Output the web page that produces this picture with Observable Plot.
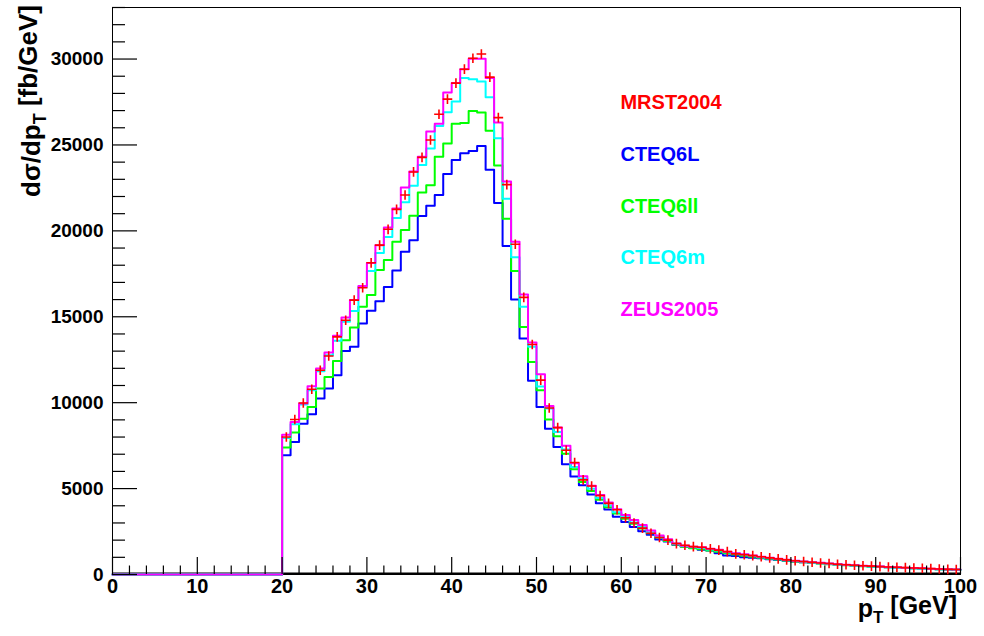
<!DOCTYPE html>
<html>
<head>
<meta charset="utf-8">
<script src="https://cdn.jsdelivr.net/npm/d3@7"></script>
<script src="https://cdn.jsdelivr.net/npm/@observablehq/plot@0.6"></script>
<style>
  body { margin: 0; background: #fff; }
  #chart svg { font-family: "Liberation Sans", Arial, Helvetica, sans-serif; }
</style>
</head>
<body>
<div id="chart"></div>
<script>
// ---- data: dσ/dpT [fb/GeV] per 1 GeV bin, pT = 0..100 GeV ----
const binWidth = 1;
const seriesNames = ["MRST2004", "CTEQ6L", "CTEQ6ll", "CTEQ6m", "ZEUS2005"];
const seriesColors = ["#ff0000", "#0000ff", "#00ff00", "#00ffff", "#ff00ff"];

const mrst2004 = [
  0,0,0,0,0,0,0,0,0,0, 0,0,0,0,0,0,0,0,0,0,
  8000, 9020, 9980, 10780, 11890, 12720, 13830, 14800, 15970, 16690,
  18140, 19170, 20090, 21250, 22090, 23430, 24280, 25290, 26790, 27670,
  28600, 29410, 30050, 30290, 28950, 26590, 22690, 19220, 16130, 13390,
  11310, 9690, 8550, 7230, 6520, 5510, 5150, 4590, 4140, 3770,
  3300, 3000, 2700, 2400, 2150, 2000, 1800, 1700, 1620, 1590,
  1500, 1420, 1330, 1200, 1150, 1100, 1030, 970, 910, 850,
  800, 760, 710, 670, 640, 600, 570, 540, 510, 490,
  460, 440, 420, 400, 380, 360, 340, 320, 300, 290
];
const cteq6L = [
  0,0,0,0,0,0,0,0,0,0, 0,0,0,0,0,0,0,0,0,0,
  6940, 7710, 8780, 9320, 10240, 10820, 11600, 13010, 13250, 14610,
  15350, 15910, 16740, 17700, 18790, 19450, 20870, 21460, 22090, 23310,
  24130, 24520, 24650, 24940, 23550, 21620, 19120, 16010, 13740, 11270,
  9750, 8490, 7420, 6410, 5710, 5190, 4650, 4150, 3780, 3360,
  3050, 2760, 2510, 2310, 2040, 1920, 1730, 1630, 1560, 1440,
  1400, 1240, 1110, 1070, 1010, 970, 940, 890, 840, 800,
  760, 720, 680, 650, 610, 580, 550, 520, 500, 470,
  450, 420, 400, 380, 360, 340, 320, 310, 290, 280
];
const cteq6ll = [
  0,0,0,0,0,0,0,0,0,0, 0,0,0,0,0,0,0,0,0,0,
  7390, 8270, 9070, 9750, 10820, 11500, 12430, 13640, 14380, 15580,
  16260, 17720, 18300, 19370, 20050, 20880, 22240, 22650, 24320, 25080,
  26240, 26280, 26980, 26890, 25820, 23800, 20700, 17660, 14410, 12370,
  10720, 9020, 8040, 7030, 6120, 5380, 4860, 4350, 3920, 3550,
  3250, 2950, 2680, 2400, 2150, 1950, 1740, 1620, 1530, 1470,
  1400, 1330, 1240, 1160, 1090, 1030, 980, 920, 870, 810,
  760, 720, 680, 640, 600, 570, 540, 510, 480, 460,
  440, 420, 400, 380, 360, 340, 320, 300, 290, 280
];
const cteq6m = [
  0,0,0,0,0,0,0,0,0,0, 0,0,0,0,0,0,0,0,0,0,
  7940, 8740, 9890, 10720, 11830, 12760, 13600, 14710, 15330, 16740,
  17670, 18710, 19640, 20750, 21660, 22620, 23840, 24790, 26110, 26910,
  27530, 28890, 28830, 28690, 27780, 25390, 21870, 18460, 15580, 13250,
  10940, 9660, 8290, 7270, 6250, 5580, 4990, 4450, 4020, 3630,
  3340, 3030, 2770, 2460, 2200, 2000, 1790, 1660, 1590, 1540,
  1460, 1400, 1300, 1220, 1150, 1080, 1010, 950, 890, 830,
  780, 740, 700, 660, 620, 580, 550, 520, 490, 470,
  440, 420, 400, 380, 360, 340, 320, 300, 280, 270
];
const zeus2005 = [
  0,0,0,0,0,0,0,0,0,0, 0,0,0,0,0,0,0,0,0,0,
  8140, 8880, 9950, 10960, 11990, 12920, 13890, 14960, 15970, 16790,
  18130, 19170, 20190, 21300, 22530, 23450, 24320, 25780, 26230, 28050,
  28600, 29410, 30010, 30010, 28890, 26300, 22870, 19370, 16300, 13500,
  11660, 9810, 8550, 7490, 6480, 5720, 5170, 4630, 4190, 3800,
  3470, 3170, 2880, 2560, 2270, 2050, 1800, 1680, 1620, 1580,
  1500, 1440, 1320, 1240, 1180, 1110, 1040, 980, 920, 860,
  800, 760, 720, 680, 640, 600, 570, 540, 510, 490,
  460, 440, 420, 400, 380, 360, 340, 320, 300, 290
];

const xMajorTicks = [0, 10, 20, 30, 40, 50, 60, 70, 80, 90, 100];
const xMinorTicks = [2,4,6,8,12,14,16,18,22,24,26,28,32,34,36,38,42,44,46,48,52,54,56,58,62,64,66,68,72,74,76,78,82,84,86,88,92,94,96,98];
const yMajorTicks = [0, 5000, 10000, 15000, 20000, 25000, 30000];
const yMinorTicks = [1000,2000,3000,4000,6000,7000,8000,9000,11000,12000,13000,14000,16000,17000,18000,19000,21000,22000,23000,24000,26000,27000,28000,29000,31000,32000,33000];

// ---- helpers ----
function stepPoints(values) {
  const pts = values.map((v, i) => ({x: i * binWidth, y: v}));
  pts.push({x: values.length * binWidth, y: values[values.length - 1]});
  return pts;
}
const markerPts = mrst2004.map((v, i) => ({x: (i + 0.5) * binWidth, y: v})).filter(d => d.y > 0);

const legendX = 59.9, legendTop = 27460, legendStep = 3010;
const legendData = seriesNames.map((name, i) => ({name, color: seriesColors[i], x: legendX, y: legendTop - i * legendStep}));

const histLines = [
  [cteq6L, seriesColors[1]],
  [cteq6ll, seriesColors[2]],
  [cteq6m, seriesColors[3]],
  [zeus2005, seriesColors[4]]
].map(([vals, c]) => Plot.line(stepPoints(vals), {x: "x", y: "y", curve: "step-after", stroke: c, strokeWidth: 2}));

const chart = Plot.plot({
  width: 984,
  height: 636,
  marginLeft: 112,
  marginRight: 24,
  marginTop: 7,
  marginBottom: 62,
  style: {fontFamily: "'Liberation Sans', Arial, sans-serif", fontSize: "19px", fontWeight: "bold", background: "#fff", color: "#000"},
  x: {domain: [0, 100]},
  y: {domain: [0, 33000]},
  marks: [
    Plot.frame({stroke: "#000", strokeWidth: 1}),
    Plot.ruleY([0], {stroke: "#000", strokeWidth: 2, dy: -1}),
    ...histLines,
    Plot.dot(markerPts, {x: "x", y: "y", symbol: "plus", stroke: seriesColors[0], strokeWidth: 1.6, r: 3.2}),
    Plot.axisX(xMinorTicks, {tickSize: -8.5, tickFormat: () => "", label: null, strokeWidth: 1.2}),
    Plot.axisX(xMajorTicks, {tickSize: -17, tickFormat: () => "", label: null, strokeWidth: 1.2}),
    Plot.axisX(xMajorTicks, {tickSize: 0, tickPadding: 4, label: null, fontSize: 20, fontWeight: "bold"}),
    Plot.axisY(yMinorTicks, {tickSize: -13, tickFormat: () => "", label: null, strokeWidth: 1.2}),
    Plot.axisY(yMajorTicks, {tickSize: -25, tickFormat: () => "", label: null, strokeWidth: 1.2}),
    Plot.axisY(yMajorTicks, {tickSize: 0, tickPadding: 9, label: null, fontSize: 19, fontWeight: "bold", tickFormat: d => String(d)}),
    Plot.text(legendData, {x: "x", y: "y", text: "name", fill: "color", textAnchor: "start", fontSize: 20, fontWeight: "bold"})
  ]
});

document.getElementById("chart").appendChild(chart);

// ---- axis titles with subscripts ----
const svg = d3.select(chart);
const xt = svg.append("text")
  .attr("x", 957).attr("y", 617)
  .attr("text-anchor", "end")
  .attr("font-size", 25).attr("font-weight", "bold").attr("fill", "#000");
xt.append("tspan").text("p");
xt.append("tspan").attr("dy", "0.35em").attr("font-size", 17).text("T");
xt.append("tspan").attr("dy", "-0.35em").text(" [GeV]");

const yt = svg.append("text")
  .attr("transform", "translate(40,5) rotate(-90)")
  .attr("text-anchor", "end")
  .attr("font-size", 26).attr("font-weight", "bold").attr("fill", "#000");
yt.append("tspan").text("dσ/dp");
yt.append("tspan").attr("dy", "0.35em").attr("font-size", 18).text("T");
yt.append("tspan").attr("dy", "-0.35em").text(" [fb/GeV]");
</script>
</body>
</html>
